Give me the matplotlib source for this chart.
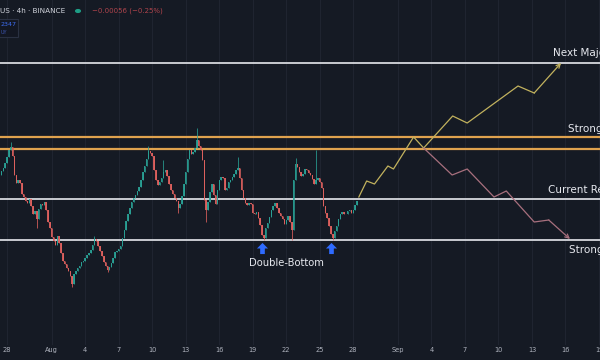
import matplotlib
matplotlib.use("Agg")
import matplotlib.pyplot as plt
from matplotlib.path import Path
from matplotlib.patches import Rectangle

# 4h candle closes (price in units of 0.0001), first candle Jul 27 12:00
closes = [2358, 2364, 2374, 2386, 2400, 2406, 2388, 2350, 2334, 2340,
          2334, 2312, 2306, 2298, 2294, 2302, 2288, 2272, 2278, 2262,
          2282, 2292, 2290, 2296, 2280, 2256, 2244, 2226, 2218, 2210,
          2228, 2214, 2194, 2178, 2172, 2164, 2158, 2148, 2132, 2152,
          2158, 2164, 2168, 2176, 2178, 2184, 2190, 2194, 2200, 2210,
          2222, 2218, 2208, 2198, 2188, 2176, 2168, 2160, 2166, 2174,
          2184, 2196, 2198, 2202, 2208, 2224, 2240, 2258, 2272, 2284,
          2296, 2304, 2310, 2318, 2326, 2340, 2356, 2368, 2382, 2398,
          2394, 2388, 2360, 2340, 2330, 2336, 2344, 2356, 2360, 2348,
          2332, 2320, 2312, 2304, 2298, 2284, 2292, 2308, 2332, 2356,
          2382, 2400, 2392, 2396, 2404, 2420, 2408, 2400, 2380, 2300,
          2280, 2296, 2316, 2332, 2310, 2292, 2320, 2340, 2346, 2344,
          2320, 2324, 2336, 2340, 2346, 2352, 2360, 2364, 2344, 2320,
          2304, 2294, 2290, 2294, 2292, 2274, 2272, 2276, 2264, 2250,
          2230, 2224, 2244, 2254, 2266, 2280, 2288, 2294, 2284, 2274,
          2268, 2262, 2252, 2260, 2268, 2256, 2240, 2340, 2372, 2366,
          2356, 2348, 2352, 2362, 2360, 2354, 2350, 2342, 2332, 2340,
          2344, 2336, 2324, 2288, 2274, 2264, 2248, 2232, 2224, 2238,
          2248, 2262, 2272, 2276, 2272, 2272, 2278, 2280, 2274, 2280,
          2290, 2298]
first_open = 2350

# long wicks visible on the chart: candle index -> price
wick_highs = {5: 2416, 50: 2228, 79: 2408, 87: 2380, 105: 2444,
              127: 2386, 158: 2384, 169: 2400}
wick_lows = {19: 2244, 38: 2126, 57: 2156, 95: 2274, 110: 2256,
             141: 2220, 156: 2220, 178: 2220}

# horizontal levels
next_major = 2574
strong_res = [2426, 2402]
current_res = 2302
strong_sup = 2220

# projected paths (days after Jul 28, price)
bull_days = [31.5, 32.2, 32.9, 34.1, 34.6, 36.4, 37.3, 39.9, 41.2, 45.75, 47.2, 49.6]
bull_prices = [2306, 2338, 2332, 2368, 2362, 2426, 2404, 2468, 2454, 2528, 2514, 2574]
bear_days = [37.3, 39.85, 41.2, 43.6, 44.7, 47.2, 48.5, 50.4]
bear_prices = [2404, 2350, 2362, 2306, 2318, 2256, 2260, 2222]

bottoms = [141, 178]

tick_days = [0, 4, 7, 10, 13, 16, 19, 22, 25, 28, 31, 35, 38, 41, 44, 47, 50, 53]
tick_labels = ['28', 'Aug', '4', '7', '10', '13', '16', '19', '22', '25', '28',
               'Sep', '4', '7', '10', '13', '16', '19']

bg = '#151a24'
up_col = '#2aa397'
down_col = '#e2625f'
scale = 1e-4

fig = plt.figure(figsize=(6, 3.6), dpi=100, facecolor=bg)
ax = fig.add_axes([0, 15 / 360, 1, 345 / 360])
ax.set_facecolor(bg)
ax.set_xlim(-0.627, 53.09)
ax.set_ylim(0.27 - 345 * 0.0002, 0.27)

ax.set_xticks(tick_days)
ax.set_xticklabels(tick_labels)
ax.tick_params(axis='x', length=0, pad=1.5, labelsize=4.8, labelcolor='#aeb2bd')
ax.set_yticks([])
for s in ax.spines.values():
    s.set_visible(False)
ax.grid(axis='x', color='#1f2430', lw=0.8)
ax.set_axisbelow(True)

# candles
opens = [first_open] + closes[:-1]
for i, (o, c) in enumerate(zip(opens, closes)):
    t = -0.5 + i / 6
    col = up_col if c >= o else down_col
    hi = wick_highs.get(i, max(o, c))
    lo = wick_lows.get(i, min(o, c))
    ax.vlines(t, lo * scale, hi * scale, color=col, lw=0.6, alpha=0.9, zorder=3)
    body = max(abs(c - o), 1) * scale
    ax.bar(t, body, bottom=min(o, c) * scale, width=0.13, color=col,
           alpha=0.9, lw=0, zorder=3)

# levels
for lvl in [next_major, current_res, strong_sup]:
    ax.axhline(lvl * scale, color='#d6d8de', lw=1.3, zorder=2)
for lvl in strong_res:
    ax.axhline(lvl * scale, color='#dfa24e', lw=1.6, zorder=2)

# projections
ax.plot(bull_days[:-1], [p * scale for p in bull_prices[:-1]],
        color='#c2b25e', lw=0.9, zorder=4)
ax.annotate('', xy=(bull_days[-1], bull_prices[-1] * scale),
            xytext=(bull_days[-2], bull_prices[-2] * scale),
            arrowprops=dict(arrowstyle='->', color='#c2b25e', lw=0.9,
                            mutation_scale=7, shrinkA=0, shrinkB=0), zorder=4)
ax.plot(bear_days[:-1], [p * scale for p in bear_prices[:-1]],
        color='#a8707e', lw=0.9, zorder=4)
ax.annotate('', xy=(bear_days[-1], bear_prices[-1] * scale),
            xytext=(bear_days[-2], bear_prices[-2] * scale),
            arrowprops=dict(arrowstyle='->', color='#a8707e', lw=0.9,
                            mutation_scale=7, shrinkA=0, shrinkB=0), zorder=4)

# double bottom arrows
arrow = Path([(-1, 0), (0, 1), (1, 0), (0.42, 0), (0.42, -1), (-0.42, -1),
              (-0.42, 0), (-1, 0)], closed=True)
ax.plot([-0.5 + b / 6 - 0.15 for b in bottoms], [0.2204] * len(bottoms),
        ls='none', marker=arrow, ms=8, color='#2f6bff', mec='none', zorder=5)
ax.text(25.05, 0.27 - 263 * 0.0002, 'Double-Bottom', color='#e6e8ee',
        fontsize=7.2, ha='center', va='center', zorder=5)

# level labels run off the right edge, as in the screenshot
lab = dict(color='#e6e8ee', fontsize=7.5, va='center', ha='left',
           textcoords='offset points', clip_on=True, zorder=5)
ax.annotate('Next Major Resistance', xy=(48.9, next_major * scale), xytext=(0, 7.2), **lab)
ax.annotate('Strong Resistance', xy=(50.2, strong_res[0] * scale), xytext=(0, 5.8), **lab)
ax.annotate('Current Resistance', xy=(48.4, current_res * scale), xytext=(0, 6.5), **lab)
ax.annotate('Strong Support', xy=(50.3, strong_sup * scale), xytext=(0, -7.2), **lab)

# header
fig.text(0.0, 1 - 11 / 360, 'US · 4h · BINANCE', color='#d1d4dc', fontsize=5.2,
         va='center', ha='left')
fig.patches.append(plt.Circle((78 / 600, 1 - 11 / 360), 2.3 / 600, color='#1e9e86',
                              transform=fig.transFigure, figure=fig))
fig.text(92 / 600, 1 - 11 / 360, '\u22120.00056 (\u22120.25%)', color='#b0444c',
         fontsize=5, va='center', ha='left')
fig.patches.append(Rectangle((-2 / 600, 1 - 37 / 360), 20 / 600, 18 / 360,
                             transform=fig.transFigure, figure=fig, fc='#131722',
                             ec='#2a3142', lw=0.8))
fig.text(1 / 600, 1 - 24 / 360, '2347', color='#3d6df2', fontsize=4.6,
         va='center', ha='left')
fig.text(1 / 600, 1 - 32 / 360, 'UY', color='#3d55b0', fontsize=3.6,
         va='center', ha='left')

fig.savefig('out.png', dpi=100, facecolor=bg)
